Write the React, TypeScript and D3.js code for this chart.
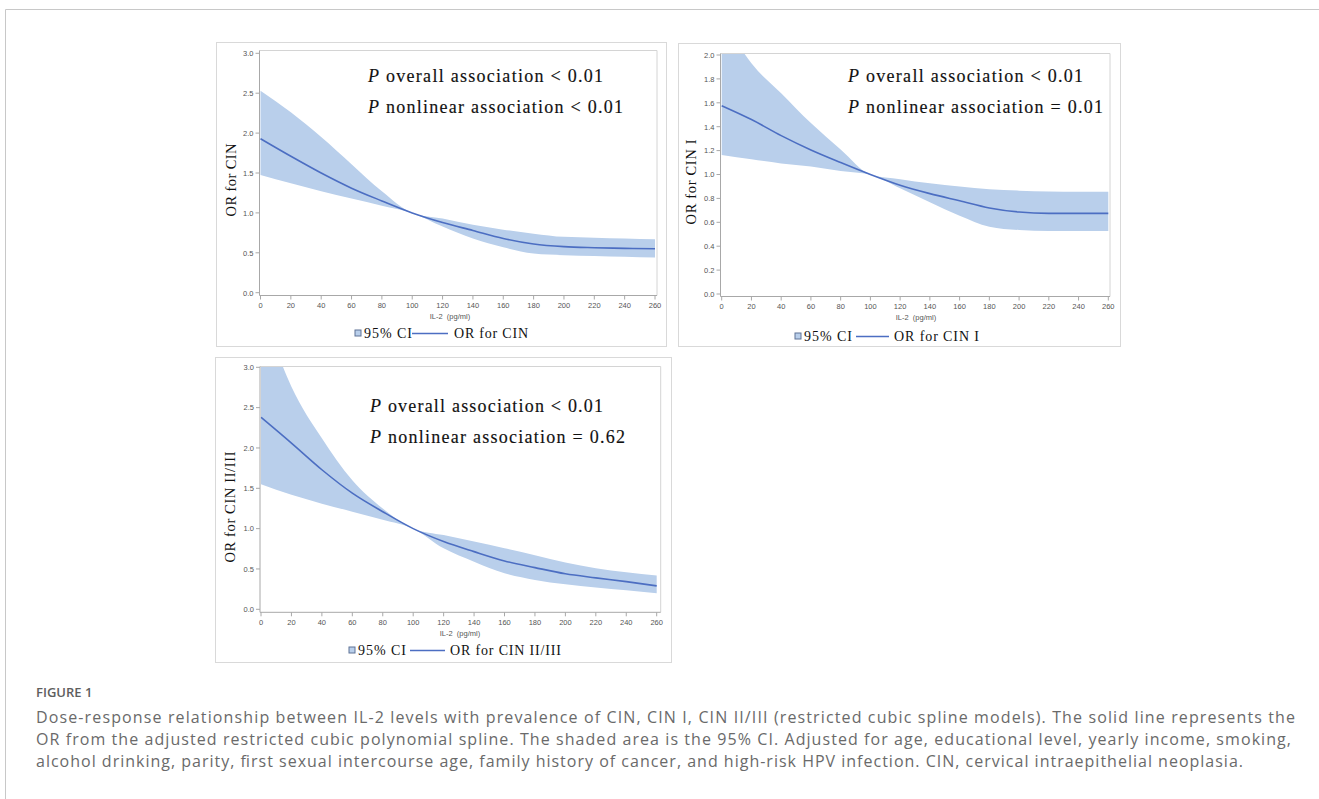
import React from 'react';
import * as d3 from 'd3';

// ---------- DATA ----------
const IL2 = [0, 20, 40, 60, 80, 100, 120, 140, 160, 180, 200, 220, 240, 260];

const cinOR = [1.93, 1.71, 1.5, 1.31, 1.15, 1.0, 0.88, 0.78, 0.68, 0.61, 0.577, 0.564, 0.556, 0.55];
const cinUpper = [2.53, 2.26, 1.95, 1.61, 1.27, 1.0, 0.93, 0.85, 0.79, 0.74, 0.7, 0.69, 0.68, 0.67];
const cinLower = [1.475, 1.37, 1.27, 1.18, 1.09, 1.0, 0.83, 0.68, 0.57, 0.49, 0.47, 0.46, 0.45, 0.44];

const cin1OR = [1.576, 1.46, 1.325, 1.205, 1.1, 1.0, 0.91, 0.84, 0.78, 0.72, 0.686, 0.675, 0.675, 0.675];
const cin1Upper = [2.32, 1.93, 1.68, 1.43, 1.21, 1.0, 0.96, 0.926, 0.9, 0.876, 0.865, 0.858, 0.856, 0.856];
const cin1Lower = [1.163, 1.127, 1.093, 1.066, 1.03, 1.0, 0.884, 0.767, 0.655, 0.563, 0.535, 0.527, 0.527, 0.527];

const cin23OR = [2.38, 2.06, 1.73, 1.44, 1.21, 1.0, 0.84, 0.715, 0.6, 0.517, 0.44, 0.39, 0.343, 0.29];
const cin23Upper = [3.75, 2.76, 2.12, 1.6, 1.25, 1.0, 0.92, 0.84, 0.756, 0.67, 0.58, 0.51, 0.46, 0.42];
const cin23Lower = [1.55, 1.42, 1.31, 1.21, 1.11, 1.0, 0.756, 0.59, 0.446, 0.364, 0.31, 0.27, 0.235, 0.2];

const xTicks = [0, 20, 40, 60, 80, 100, 120, 140, 160, 180, 200, 220, 240, 260];
const yTicks3 = [0, 0.5, 1.0, 1.5, 2.0, 2.5, 3.0];
const yTicks2 = [0, 0.2, 0.4, 0.6, 0.8, 1.0, 1.2, 1.4, 1.6, 1.8, 2.0];

const xLabel = 'IL-2  (pg/ml)';
const ciLabel = '95% CI';
const seriesLabels = ['OR for CIN', 'OR for CIN I', 'OR for CIN II/III'];
const pOverall = ['< 0.01', '< 0.01', '< 0.01'];
const pNonlinear = ['< 0.01', '= 0.01', '= 0.62'];

const captionTitle = 'FIGURE 1';
const captionLines = [
  'Dose-response relationship between IL-2 levels with prevalence of CIN, CIN I, CIN II/III (restricted cubic spline models). The solid line represents the',
  'OR from the adjusted restricted cubic polynomial spline. The shaded area is the 95% CI. Adjusted for age, educational level, yearly income, smoking,',
  'alcohol drinking, parity, first sexual intercourse age, family history of cancer, and high-risk HPV infection. CIN, cervical intraepithelial neoplasia.',
];

// ---------- STYLE / LAYOUT ----------
const BAND = '#b9cfeb';
const LINE = '#4c6ec2';
const SERIF = '"Liberation Serif", "Times New Roman", serif';
const SANS = '"Liberation Sans", Arial, sans-serif';

type Cfg = {
  id: string;
  frame: [number, number, number, number];
  box: [number, number, number, number];
  xr: [number, number];
  yr: [number, number];
  yMax: number;
  yTicks: number[];
  or: number[];
  up: number[];
  lo: number[];
  label: string;
  ylab: [number, number, number];
  ann: [number, number, number, number, number];
  pO: string;
  pN: string;
  xlab: [number, number];
  tickY: number;
  leg: { y: number; sq: number; t1: number; lx1: number; lx2: number; t2: number; t2len: number };
};

const panels: Cfg[] = [
  {
    id: 'p1',
    frame: [216.5, 42.5, 450, 304],
    box: [259.5, 50.5, 657, 295.5],
    xr: [260.5, 655],
    yr: [292.7, 53.3],
    yMax: 3,
    yTicks: yTicks3,
    or: cinOR,
    up: cinUpper,
    lo: cinLower,
    label: seriesLabels[0],
    ylab: [231, 180, 73],
    ann: [368, 82, 113, 235, 255],
    pO: pOverall[0],
    pN: pNonlinear[0],
    xlab: [450, 319],
    tickY: 308,
    leg: { y: 338, sq: 355, t1: 364, lx1: 412, lx2: 448, t2: 454, t2len: 74 },
  },
  {
    id: 'p2',
    frame: [678.5, 43.5, 442, 303],
    box: [720.5, 53.5, 1110, 296.5],
    xr: [721.7, 1108.3],
    yr: [294, 55],
    yMax: 2,
    yTicks: yTicks2,
    or: cin1OR,
    up: cin1Upper,
    lo: cin1Lower,
    label: seriesLabels[1],
    ylab: [691, 182, 85],
    ann: [848, 82, 113, 235, 255],
    pO: pOverall[1],
    pN: pNonlinear[1],
    xlab: [916, 320],
    tickY: 309,
    leg: { y: 341, sq: 795, t1: 804, lx1: 856, lx2: 889, t2: 894, t2len: 85 },
  },
  {
    id: 'p3',
    frame: [215.5, 357.5, 456, 305],
    box: [260, 366.5, 660.7, 612.3],
    xr: [261, 656.7],
    yr: [609.3, 367.3],
    yMax: 3,
    yTicks: yTicks3,
    or: cin23OR,
    up: cin23Upper,
    lo: cin23Lower,
    label: seriesLabels[2],
    ylab: [230, 507, 111],
    ann: [370, 412, 443, 233, 255],
    pO: pOverall[2],
    pN: pNonlinear[2],
    xlab: [460, 636],
    tickY: 625,
    leg: { y: 655, sq: 349, t1: 358, lx1: 410, lx2: 445, t2: 450, t2len: 111 },
  },
];

function Panel({ c }: { c: Cfg }) {
  const x = d3.scaleLinear().domain([0, 260]).range(c.xr);
  const y = d3.scaleLinear().domain([0, c.yMax]).range(c.yr);
  const [l, t, r, b] = c.box;
  const pts = IL2.map((v, i) => ({ x: v, or: c.or[i], up: c.up[i], lo: c.lo[i] }));
  const area = d3
    .area<any>()
    .x((d) => x(d.x))
    .y0((d) => y(d.lo))
    .y1((d) => y(d.up))
    .curve(d3.curveMonotoneX);
  const line = d3
    .line<any>()
    .x((d) => x(d.x))
    .y((d) => y(d.or))
    .curve(d3.curveMonotoneX);
  const fmt = d3.format('.1f');
  return (
    <g>
      <rect x={c.frame[0]} y={c.frame[1]} width={c.frame[2]} height={c.frame[3]} fill="#fff" stroke="#d9d9d9" strokeWidth={1} />
      <defs>
        <clipPath id={`clip-${c.id}`}>
          <rect x={l} y={t} width={r - l} height={b - t} />
        </clipPath>
      </defs>
      <g clipPath={`url(#clip-${c.id})`}>
        <path d={area(pts) || ''} fill={BAND} stroke="none" />
        <path d={line(pts) || ''} fill="none" stroke={LINE} strokeWidth={1.6} />
      </g>
      <path d={`M${l},${t}H${r}V${b}`} fill="none" stroke="#d4d4d4" strokeWidth={1} />
      <line x1={l} x2={l} y1={t} y2={b} stroke="#a8a8a8" strokeWidth={1} />
      <line x1={l} x2={r} y1={b} y2={b} stroke="#a8a8a8" strokeWidth={1} />
      {c.yTicks.map((v) => (
        <g key={'y' + v}>
          <line x1={l - 4} x2={l} y1={y(v)} y2={y(v)} stroke="#a8a8a8" />
          <text x={l - 6} y={y(v) + 2.8} fontSize={7.5} fontFamily={SANS} fill="#555" textAnchor="end">
            {fmt(v)}
          </text>
        </g>
      ))}
      {xTicks.map((v) => (
        <g key={'x' + v}>
          <line x1={x(v)} x2={x(v)} y1={b} y2={b + 4} stroke="#a8a8a8" />
          <text x={x(v)} y={c.tickY} fontSize={7.5} fontFamily={SANS} fill="#555" textAnchor="middle">
            {v}
          </text>
        </g>
      ))}
      <text x={c.xlab[0]} y={c.xlab[1]} fontSize={7.5} fontFamily={SANS} fill="#555" textAnchor="middle" style={{ whiteSpace: 'pre' }}>
        {xLabel}
      </text>
      <text
        transform={`translate(${c.ylab[0] + 4.5},${c.ylab[1]}) rotate(-90)`}
        fontSize={14.5}
        fontFamily={SERIF}
        fill="#111"
        textAnchor="middle"
        textLength={c.ylab[2]}
        lengthAdjust="spacing"
      >
        {c.label}
      </text>
      <text x={c.ann[0]} y={c.ann[1]} fontSize={18} fontFamily={SERIF} fill="#111" stroke="#111" strokeWidth={0.15} textLength={c.ann[3]} lengthAdjust="spacing">
        <tspan fontStyle="italic">P</tspan>
        <tspan> overall association {c.pO}</tspan>
      </text>
      <text x={c.ann[0]} y={c.ann[2]} fontSize={18} fontFamily={SERIF} fill="#111" stroke="#111" strokeWidth={0.15} textLength={c.ann[4]} lengthAdjust="spacing">
        <tspan fontStyle="italic">P</tspan>
        <tspan> nonlinear association {c.pN}</tspan>
      </text>
      <rect x={c.leg.sq} y={c.leg.y - 8} width={6} height={6} fill={BAND} stroke="#5f7396" strokeWidth={1} />
      <text x={c.leg.t1} y={c.leg.y} fontSize={14} fontFamily={SERIF} fill="#111" textLength={48} lengthAdjust="spacing">
        {ciLabel}
      </text>
      <line x1={c.leg.lx1} x2={c.leg.lx2} y1={c.leg.y - 4.5} y2={c.leg.y - 4.5} stroke={LINE} strokeWidth={1.3} />
      <text x={c.leg.t2} y={c.leg.y} fontSize={14} fontFamily={SERIF} fill="#111" textLength={c.leg.t2len} lengthAdjust="spacing">
        {c.label}
      </text>
    </g>
  );
}

export default function App() {
  const capLens = [1259, 1255, 1207];
  return (
    <svg
      width={1319}
      height={799}
      viewBox="0 0 1319 799"
      style={{ position: 'absolute', left: 0, top: 0, background: '#fff' }}
    >
      <rect x={0} y={0} width={1319} height={799} fill="#fff" />
      <path d="M5.5,810 V9.5 H1330" fill="none" stroke="#c8c8c8" strokeWidth={1} />
      {panels.map((p) => (
        <Panel key={p.id} c={p} />
      ))}
      <text x={36} y={697} fontSize={13} fontFamily='"Open Sans", sans-serif' fontWeight={600} fill="#5e5e5e">
        {captionTitle}
      </text>
      {captionLines.map((s, i) => (
        <text
          key={i}
          x={36}
          y={722.5 + i * 22.2}
          fontSize={16}
          fontFamily='"Open Sans", sans-serif'
          fill="#6a6a6a"
          textLength={capLens[i]}
          lengthAdjust="spacing"
        >
          {s}
        </text>
      ))}
    </svg>
  );
}
